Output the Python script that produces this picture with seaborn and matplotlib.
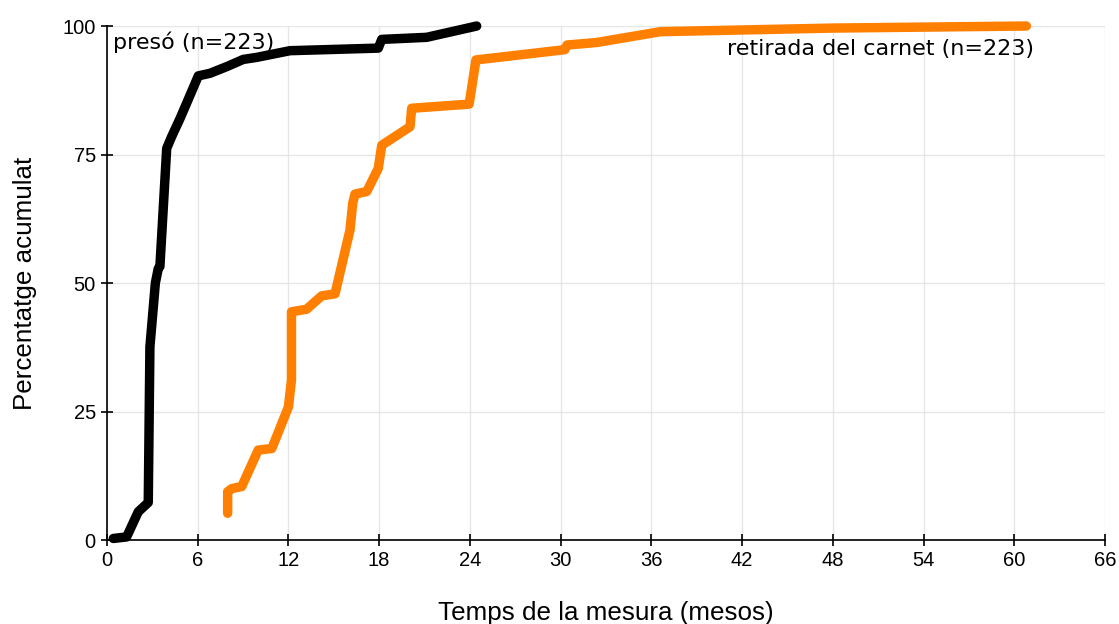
import numpy as np
import pandas as pd
import matplotlib
matplotlib.use("Agg")
import matplotlib.pyplot as plt
import seaborn as sns

# Cumulative percentage over time (months) for each measure
preso_mesos = [0.42, 1.30, 2.07, 2.73, 2.84, 3.20, 3.39, 3.50, 3.95, 4.28, 4.83, 5.27,
               6.04, 6.81, 7.92, 9.01, 9.90, 12.10, 17.94, 18.17, 21.14, 24.45]
preso_pct = [0.3, 0.6, 5.5, 7.3, 37.6, 50.0, 52.8, 53.2, 76.2, 78.5, 82.0, 85.0,
             90.3, 90.8, 92.1, 93.5, 93.9, 95.2, 95.7, 97.4, 97.8, 100.0]

retirada_mesos = [7.98, 7.98, 8.25, 8.91, 10.00, 10.90, 12.00, 12.20, 12.20, 13.20, 14.20,
                  15.08, 16.07, 16.25, 16.40, 17.18, 17.94, 18.17, 20.04, 20.15, 23.95,
                  24.40, 30.28, 30.42, 32.40, 36.60, 48.00, 60.80]
retirada_pct = [5.2, 9.4, 10.0, 10.4, 17.5, 17.8, 25.9, 31.1, 44.4, 44.9, 47.5,
                47.9, 60.3, 65.5, 67.3, 67.8, 72.3, 76.8, 80.4, 84.0, 84.8,
                93.4, 95.4, 96.3, 96.8, 98.9, 99.6, 100.0]

x_ticks = [0, 6, 12, 18, 24, 30, 36, 42, 48, 54, 60, 66]
y_ticks = [0, 25, 50, 75, 100]

df = pd.concat([
    pd.DataFrame({"mesos": preso_mesos, "pct": preso_pct, "mesura": "presó"}),
    pd.DataFrame({"mesos": retirada_mesos, "pct": retirada_pct, "mesura": "retirada del carnet"}),
], ignore_index=True)

sns.set_theme(style="whitegrid")
plt.rcParams["font.family"] = ["Liberation Sans", "DejaVu Sans"]
plt.rcParams["text.color"] = "black"
plt.rcParams["axes.labelcolor"] = "black"

fig = plt.figure(figsize=(11.19, 6.24), dpi=100)
ax = fig.add_axes([0.0956, 0.1346, 0.8919, 0.8237])

sns.lineplot(data=df, x="mesos", y="pct", hue="mesura", sort=False, estimator=None,
             palette={"presó": "#000000", "retirada del carnet": "#ff8000"},
             linewidth=6.8, legend=False, ax=ax)
for line in ax.lines:
    line.set_solid_capstyle("round")
    line.set_solid_joinstyle("round")
    line.set_clip_on(False)

ax.set_xlim(0, 66)
ax.set_ylim(0, 100)
ax.set_xticks(x_ticks)
ax.set_yticks(y_ticks)
ax.grid(True, color="#e6e6e6", linewidth=1)
for s in ["top", "right"]:
    ax.spines[s].set_visible(False)
for s in ["left", "bottom"]:
    ax.spines[s].set_visible(True)
    ax.spines[s].set_color("black")
    ax.spines[s].set_linewidth(1.2)
ax.tick_params(axis="both", which="major", direction="inout", length=8, width=1.2,
               color="black", labelsize=14.5, labelcolor="black", left=True, bottom=True, pad=4)

ax.set_xlabel("Temps de la mesura (mesos)", fontsize=18.7, labelpad=22)
ax.set_ylabel("Percentatge acumulat", fontsize=18.7, labelpad=18)

ax.text(0.4, 96.8, "presó (n=223)", fontsize=16, family=["DejaVu Sans"], ha="left", va="center")
ax.text(61.3, 95.5, "retirada del carnet (n=223)", fontsize=16, family=["DejaVu Sans"],
        ha="right", va="center")

fig.savefig("out.png", dpi=100, facecolor="white")
